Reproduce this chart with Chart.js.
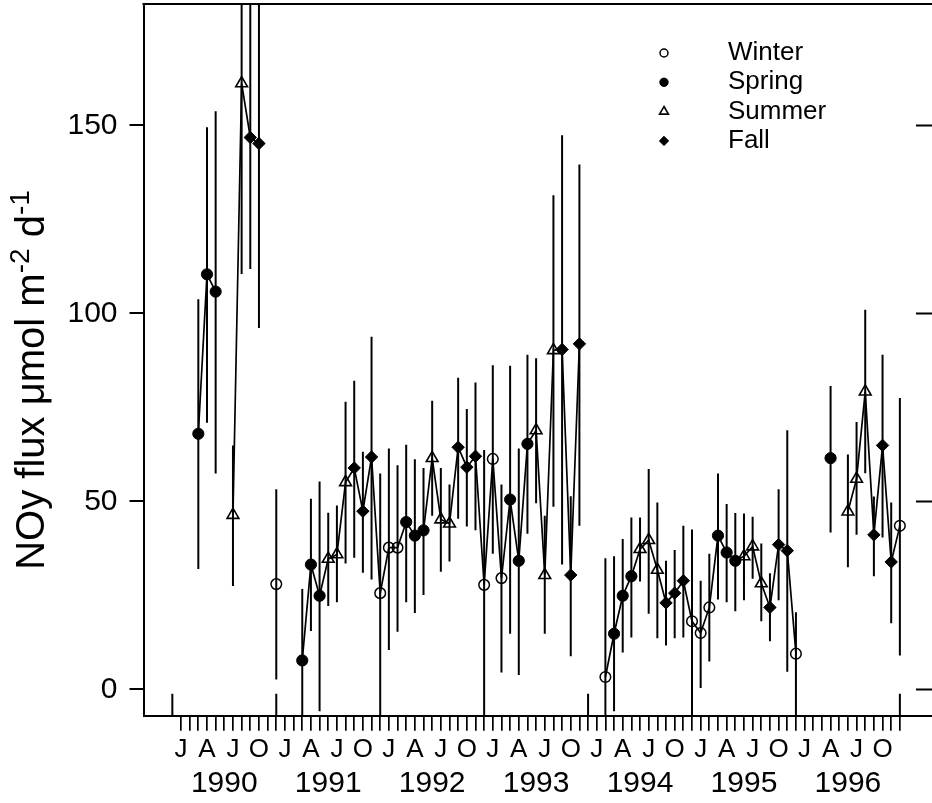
<!DOCTYPE html>
<html>
<head>
<meta charset="utf-8">
<script src="https://cdn.jsdelivr.net/npm/chart.js@4.4.1/dist/chart.umd.min.js"></script>
<style>
  html, body { margin: 0; padding: 0; background: #fff; overflow: hidden; }
  #wrap { width: 932px; height: 803px; }
</style>
</head>
<body>
<div id="wrap"><canvas id="fluxChart" width="932" height="803"></canvas></div>
<script>
// Monthly NOy flux, Jan 1990 .. Dec 1996 (null = no sample that month)
const flux = [
  null, null, 68.0, 110.4, 105.8, null, 46.4, 161.2, 146.8, 145.2, null, 28.0,
  null, null, 7.7, 33.2, 24.9, 34.7, 35.9, 55.1, 58.9, 47.4, 61.8, 25.6,
  37.7, 37.7, 44.5, 40.9, 42.3, 61.5, 45.2, 44.1, 64.4, 59.1, 62.0, 27.8,
  61.3, 29.6, 50.5, 34.2, 65.3, 68.9, 30.4, 90.2, 90.4, 30.4, 91.9, null,
  null, 3.3, 14.8, 24.9, 30.1, 37.3, 39.7, 31.8, 23.0, 25.6, 28.9, 18.1,
  15.0, 21.8, 40.9, 36.4, 34.2, 35.4, 38.0, 28.2, 21.8, 38.5, 36.9, 9.5,
  null, null, null, 61.5, null, 47.3, 56.0, 79.2, 41.1, 64.9, 33.9, 43.5
];
const errLow = [
  null, null, 32.0, 70.9, 57.4, null, 27.5, 110.5, 111.8, 96.1, null, 2.6,
  null, null, -12, 15.5, -5.8, 22.2, 23.2, 33.5, 35.0, 31.0, 29.2, -10,
  10.5, 15.3, 23.2, 20.3, 25.1, 46.2, 31.3, 34.0, 45.4, 43.3, 42.3, -10,
  36.1, 4.5, 14.8, 3.8, 41.4, 49.5, 14.8, 48.6, 33.2, 8.8, 43.5, null,
  null, -28, -5.8, 9.8, 13.8, 28.7, 20.1, 13.6, 11.7, 13.6, 13.8, -10,
  0.4, 7.4, 23.9, 23.2, 20.8, 23.7, 29.4, 18.1, 12.8, 23.7, 4.7, -10,
  null, null, null, 41.7, null, 32.5, 41.1, 57.5, 30.1, 40.4, 17.6, 9.0
];
const errHigh = [
  null, null, 103.8, 149.5, 153.8, null, 64.9, 211.9, 183.0, 194.3, null, 53.2,
  null, null, 26.7, 50.7, 55.3, 47.0, 48.9, 76.5, 82.1, 63.2, 93.8, 57.4,
  64.1, 59.6, 65.1, 61.2, 58.9, 76.8, 58.9, 54.5, 82.9, 74.6, 81.6, 63.7,
  86.2, 54.5, 86.1, 64.1, 89.0, 88.1, 46.2, 131.4, 147.4, 51.4, 139.6, null,
  null, 34.9, 35.4, 40.0, 45.7, 45.7, 58.6, 49.7, 34.2, 37.1, 43.5, 42.5,
  28.9, 36.1, 57.4, 49.3, 46.9, 46.8, 45.9, 38.8, 30.9, 53.2, 68.9, 20.5,
  null, null, null, 80.7, null, 62.5, 71.1, 101.0, 51.3, 89.0, 49.7, 77.5
];
const seasons = ['Winter', 'Spring', 'Summer', 'Fall'];
const monthLetters = ['J', 'A', 'J', 'O'];
const years = ['1990', '1991', '1992', '1993', '1994', '1995', '1996'];
const yTicks = [0, 50, 100, 150];
const markMonths = [-1, 11, 47, 83];

// month index from Jan 1990
const months = flux.map((v, i) => i);
const FONT = '"Liberation Sans", Arial, Helvetica, sans-serif';

// Dec-Feb winter, Mar-May spring, Jun-Aug summer, Sep-Nov fall
function seasonOf(m) {
  return Math.floor(((m + 1) % 12) / 3);
}

const markers = [
  { pointStyle: 'circle', radius: 5.3, fill: 'rgba(0,0,0,0)', borderWidth: 1.5 },
  { pointStyle: 'circle', radius: 5.6, fill: '#000', borderWidth: 1 },
  { pointStyle: 'triangle', radius: 6.8, fill: 'rgba(0,0,0,0)', borderWidth: 1.6 },
  { pointStyle: 'rectRot', radius: 6.2, fill: '#000', borderWidth: 1 }
];

const errorBars = {
  id: 'errorBars',
  beforeDatasetsDraw(chart) {
    const { ctx, chartArea: a, scales: { x, y } } = chart;
    ctx.save();
    ctx.beginPath();
    ctx.rect(a.left, a.top, a.right - a.left, a.bottom - a.top);
    ctx.clip();
    ctx.strokeStyle = '#000';
    ctx.lineWidth = 2;
    ctx.beginPath();
    months.forEach((m, i) => {
      if (errLow[i] == null) return;
      const px = x.getPixelForValue(m);
      ctx.moveTo(px, y.getPixelForValue(errLow[i]));
      ctx.lineTo(px, y.getPixelForValue(errHigh[i]));
    });
    ctx.stroke();
    ctx.restore();
  }
};

const frame = {
  id: 'frame',
  afterDraw(chart) {
    const { ctx, chartArea: a, scales: { x, y } } = chart;
    ctx.save();
    ctx.strokeStyle = '#000';
    ctx.lineWidth = 2;
    ctx.beginPath();
    ctx.moveTo(a.left - 1, a.top);
    ctx.lineTo(a.right, a.top);
    // right side ticks point inward
    yTicks.forEach(v => {
      const py = y.getPixelForValue(v);
      ctx.moveTo(a.right - 16, py);
      ctx.lineTo(a.right, py);
    });
    // inward marks on the time axis
    markMonths.forEach(m => {
      const px = x.getPixelForValue(m);
      ctx.moveTo(px, a.bottom);
      ctx.lineTo(px, a.bottom - 22);
    });
    ctx.stroke();

    ctx.fillStyle = '#000';
    ctx.font = '30px ' + FONT;
    ctx.textAlign = 'center';
    ctx.textBaseline = 'middle';
    years.forEach((yr, k) => {
      ctx.fillText(yr, x.getPixelForValue(12 * k + 5), a.bottom + 68);
    });
    ctx.restore();
  }
};

function drawMarker(ctx, mk, scale, px, py) {
  ctx.fillStyle = mk.fill;
  ctx.strokeStyle = '#000';
  ctx.lineWidth = mk.borderWidth;
  Chart.helpers.drawPoint(ctx, {
    pointStyle: mk.pointStyle,
    radius: mk.radius * scale,
    borderWidth: mk.borderWidth,
    rotation: 0
  }, px, py);
}

const seasonLegend = {
  id: 'seasonLegend',
  afterDraw(chart) {
    const { ctx } = chart;
    ctx.save();
    seasons.forEach((name, k) => {
      const py = 53 + k * 29.3;
      drawMarker(ctx, markers[k], 0.75, 664, py);
      ctx.fillStyle = '#000';
      ctx.font = '26px ' + FONT;
      ctx.textAlign = 'left';
      ctx.textBaseline = 'middle';
      ctx.fillText(name, 728, py);
    });
    ctx.restore();
  }
};

const yTitle = {
  id: 'yTitle',
  afterDraw(chart) {
    const { ctx } = chart;
    const parts = [['NOy flux \u03bcmol m', false], ['-2', true], [' d', false], ['-1', true]];
    const big = '40px ' + FONT;
    const small = '28px ' + FONT;
    ctx.save();
    let total = 0;
    parts.forEach(([t, sup]) => {
      ctx.font = sup ? small : big;
      total += ctx.measureText(t).width;
    });
    ctx.translate(44, 380);
    ctx.rotate(-Math.PI / 2);
    ctx.fillStyle = '#000';
    ctx.textAlign = 'left';
    ctx.textBaseline = 'alphabetic';
    let pos = -total / 2;
    parts.forEach(([t, sup]) => {
      ctx.font = sup ? small : big;
      ctx.fillText(t, pos, sup ? -15 : 0);
      pos += ctx.measureText(t).width;
    });
    ctx.restore();
  }
};

new Chart(document.getElementById('fluxChart'), {
  type: 'line',
  data: {
    datasets: [{
      data: months.map((m, i) => ({ x: m, y: flux[i] })),
      borderColor: '#000',
      borderWidth: 1.7,
      tension: 0,
      spanGaps: false,
      pointStyle: c => markers[seasonOf(c.dataIndex)].pointStyle,
      pointRadius: c => markers[seasonOf(c.dataIndex)].radius,
      pointBackgroundColor: c => markers[seasonOf(c.dataIndex)].fill,
      pointBorderColor: '#000',
      pointBorderWidth: c => markers[seasonOf(c.dataIndex)].borderWidth
    }]
  },
  options: {
    responsive: false,
    animation: false,
    devicePixelRatio: 1,
    // the right-hand frame line sits just past the canvas edge
    layout: { autoPadding: false, padding: { top: 4, right: -2, bottom: 0, left: 0 } },
    plugins: {
      legend: { display: false },
      tooltip: { enabled: false }
    },
    scales: {
      x: {
        type: 'linear',
        min: -4.33,
        max: 86.71,
        afterBuildTicks: s => { s.ticks = months.map(m => ({ value: m })); },
        afterFit: s => {
          s.height = 87.3;
          s.paddingLeft = 0;
          s.paddingRight = 0;
        },
        grid: { drawOnChartArea: false, tickLength: 15, color: '#000', lineWidth: 1.7 },
        border: { color: '#000', width: 2 },
        ticks: {
          autoSkip: false,
          maxRotation: 0,
          color: '#000',
          padding: 4,
          font: { family: FONT, size: 26 },
          callback: v => (v % 3 === 0 ? monthLetters[(v % 12) / 3] : '')
        }
      },
      y: {
        min: -7,
        max: 182.3,
        afterBuildTicks: s => { s.ticks = yTicks.map(v => ({ value: v })); },
        afterFit: s => {
          s.width = 143.5;
          s.paddingTop = 0;
          s.paddingBottom = 0;
        },
        grid: { drawOnChartArea: false, tickLength: 14, color: '#000', lineWidth: 2 },
        border: { color: '#000', width: 2 },
        ticks: { color: '#000', padding: 12, font: { family: FONT, size: 30 } }
      }
    }
  },
  plugins: [errorBars, frame, seasonLegend, yTitle]
});
</script>
</body>
</html>
